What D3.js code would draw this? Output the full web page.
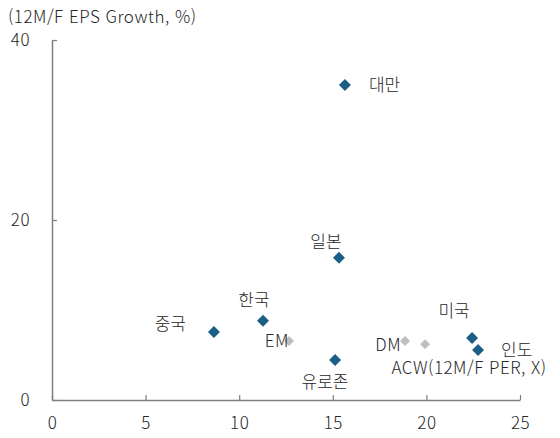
<!DOCTYPE html>
<html lang="ko">
<head>
<meta charset="utf-8">
<title>PER vs EPS growth</title>
<script src="https://cdn.jsdelivr.net/npm/d3@7"></script>
<style>
  body { margin: 0; background: #fff; }
  text { font-family: "Noto Sans CJK KR", "Open Sans", sans-serif; fill: #262626; font-weight: 300; }
  .lat { letter-spacing: 0.5px; }
</style>
</head>
<body>
<div id="chart"></div>
<script>
// 지역 / PER / EPS 성장률
const names = ["대만", "일본", "한국", "중국", "유로존", "미국", "인도", "EM", "DM", "ACW"];
const per = [15.65, 15.33, 11.27, 8.65, 15.12, 22.44, 22.76, 12.66, 18.86, 19.93];
const eps = [35.0, 15.8, 8.8, 7.55, 4.45, 6.9, 5.55, 6.55, 6.55, 6.2];
const isIndex = [false, false, false, false, false, false, false, true, true, true];
const xTicks = [0, 5, 10, 15, 20, 25];
const yTicks = [0, 20, 40];

// 라벨 위치 (점 기준 오프셋)
const labelOffset = {
  "대만": [24, 0, "start"], "일본": [-13, -16, "middle"], "한국": [-9, -21, "middle"],
  "중국": [-28, -8, "end"], "유로존": [-10, 22, "middle"], "미국": [-18, -27, "middle"],
  "인도": [23, 0, "start"], "EM": [0, 0, "end"], "DM": [-4, 4, "end"], "ACW": [3, 24, "end"]
};

const width = 560, height = 438;
const margin = {top: 40, right: 40, bottom: 38, left: 52};

const x = d3.scaleLinear().domain([0, 25]).range([margin.left, width - margin.right]);
const y = d3.scaleLinear().domain([0, 40]).range([height - margin.bottom, margin.top]);

const svg = d3.select("#chart").append("svg")
    .attr("width", width)
    .attr("height", height)
    .attr("font-size", 17);

const xAxis = svg.append("g")
    .attr("transform", `translate(0,${y(0)})`)
    .call(d3.axisBottom(x).tickValues(xTicks).tickSizeInner(-5).tickSizeOuter(0).tickPadding(17));
const yAxis = svg.append("g")
    .attr("transform", `translate(${x(0)},0)`)
    .call(d3.axisLeft(y).tickValues(yTicks).tickSizeInner(-5).tickSizeOuter(0).tickPadding(22));

[xAxis, yAxis].forEach(g => {
  g.attr("font-size", 17).attr("font-family", null);
  g.select(".domain").attr("stroke", "#7f7f7f").attr("stroke-width", 1.5);
  g.selectAll(".tick line").attr("stroke", "#7f7f7f").attr("stroke-width", 1.2);
  g.selectAll(".tick text").attr("fill", "#262626").attr("class", "lat");
});

svg.append("text")
    .attr("class", "lat")
    .attr("x", 8).attr("y", 17).attr("dy", "0.35em")
    .text("(12M/F EPS Growth, %)");

svg.append("text")
    .attr("class", "lat")
    .attr("x", x(19.93) + 3).attr("y", y(6.2) + 24).attr("dy", "0.35em")
    .text("(12M/F PER, X)");

const data = names.map((n, i) => ({name: n, per: per[i], eps: eps[i], idx: isIndex[i]}));

svg.append("g").selectAll("path")
  .data(data)
  .join("path")
    .attr("transform", d => `translate(${x(d.per)},${y(d.eps)}) rotate(45)`)
    .attr("d", d => d3.symbol(d3.symbolSquare, d.idx ? 50 : 72)())
    .attr("fill", d => d.idx ? "#bfbfbf" : "#1b5e86");

svg.append("g").selectAll("text")
  .data(data)
  .join("text")
    .attr("class", d => d.idx ? "lat" : null)
    .attr("x", d => x(d.per) + labelOffset[d.name][0])
    .attr("y", d => y(d.eps) + labelOffset[d.name][1])
    .attr("dy", "0.35em")
    .attr("text-anchor", d => labelOffset[d.name][2])
    .text(d => d.name);
</script>
</body>
</html>
